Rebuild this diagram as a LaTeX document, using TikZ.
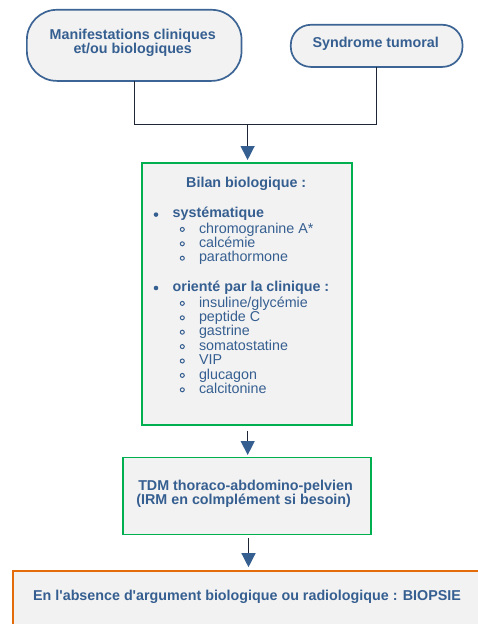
\documentclass[tikz,border=0pt]{standalone}
\usepackage{fontspec}
\setmainfont{Liberation Sans}[Ligatures=TeXOff]
\usetikzlibrary{arrows.meta}
\definecolor{txtblue}{HTML}{365F91}
\definecolor{pillblue}{HTML}{3C6494}
\definecolor{boxfill}{HTML}{F2F2F2}
\definecolor{boxgreen}{HTML}{00B050}
\definecolor{boxorange}{HTML}{E46C0A}
\definecolor{wire}{HTML}{1E2636}
\begin{document}
\begin{tikzpicture}[x=1pt,y=-1pt,
  every node/.style={font=\fontsize{14.3}{14.5}\selectfont, text=txtblue, inner sep=0pt, outer sep=0pt},
  pill/.style={draw=pillblue, line width=1.7pt, fill=boxfill},
  greenbox/.style={draw=boxgreen, line width=1.9pt, fill=boxfill},
  orangebox/.style={draw=boxorange, line width=1.9pt, fill=boxfill},
  wireline/.style={draw=wire, line width=1.3pt},
  flow/.style={wireline, -{Triangle[length=14pt,width=14pt,fill=txtblue,color=txtblue]}},
  strong/.style={font=\bfseries\fontsize{14.3}{14.5}\selectfont},
  line/.style={anchor=base},
  entry/.style={anchor=base west},
  dot/.style={fill=txtblue},
  ring/.style={draw=txtblue, line width=1pt},
]
\useasboundingbox (0,0) rectangle (478,624);

% shapes
\node[pill, rounded corners=30pt, minimum width=214.7pt, minimum height=71.1pt] (clin) at (134.2,45.35) {};
\node[pill, rounded corners=20pt, minimum width=171.7pt, minimum height=42.1pt] (synd) at (376.65,45.85) {};
\node[greenbox, minimum width=210.4pt, minimum height=262.5pt] (bilan) at (247.2,293.85) {};
\node[greenbox, minimum width=248pt, minimum height=77pt] (tdm) at (247,496) {};
\node[orangebox, anchor=north west, minimum width=500pt, minimum height=80pt] (biopsie) at (12.6,570.9) {};

% texts of the top boxes
\node[strong, line] (clin1) at (132.7,39.3) {Manifestations cliniques};
\node[strong, line] (clin2) at (132.7,53.3) {et/ou biologiques};
\node[strong, line] (synd1) at (375.7,47.0) {Syndrome tumoral};

% biological work-up list
\node[strong, line] (biltitle) at (246.2,187.5) {Bilan biologique :};
\node[strong, entry] (sys) at (172.7,217.6) {systématique};
\fill[dot] (156,214.6) circle (2.3pt);
\foreach \t [count=\i] in {chromogranine A*, calcémie, parathormone}{
  \node[entry] (sys\i) at (199,{233+14.4*(\i-1)}) {\t};
  \draw[ring] (182.3,{229.4+14.4*(\i-1)}) circle (2pt);
}
\node[strong, entry] (ori) at (172.7,291) {orienté par la clinique :};
\fill[dot] (156,288) circle (2.3pt);
\foreach \t [count=\i] in {insuline/glycémie, peptide C, gastrine, somatostatine, VIP, glucagon, calcitonine}{
  \node[entry] (ori\i) at (199,{307+14.4*(\i-1)}) {\t};
  \draw[ring] (182.3,{303.4+14.4*(\i-1)}) circle (2pt);
}

% imaging box
\node[strong, line] (tdm1) at (245.5,490) {TDM thoraco-abdomino-pelvien};
\node[strong, line] (tdm2) at (243.7,504.3) {(IRM en colmplément si besoin)};

% biopsy box
\node[strong, line] (biop1) at (247,600.7) {En l'absence d'argument biologique ou radiologique : BIOPSIE};

% connectors
\coordinate (junction) at (247.6,124.7);
\draw[wireline] (clin.south) |- (junction) -| (synd.south);
\draw[flow, shorten >=2.6pt] (junction) -- (junction |- bilan.north);
\draw[flow, shorten <=5.4pt, shorten >=2.5pt] ([xshift=0.5pt]bilan.south) -- ([xshift=0.5pt]bilan.south |- tdm.north);
\draw[flow, shorten <=3.5pt, shorten >=3.7pt] ([xshift=1.5pt]tdm.south) -- ([xshift=1.5pt]tdm.south |- biopsie.north);
\end{tikzpicture}
\end{document}
